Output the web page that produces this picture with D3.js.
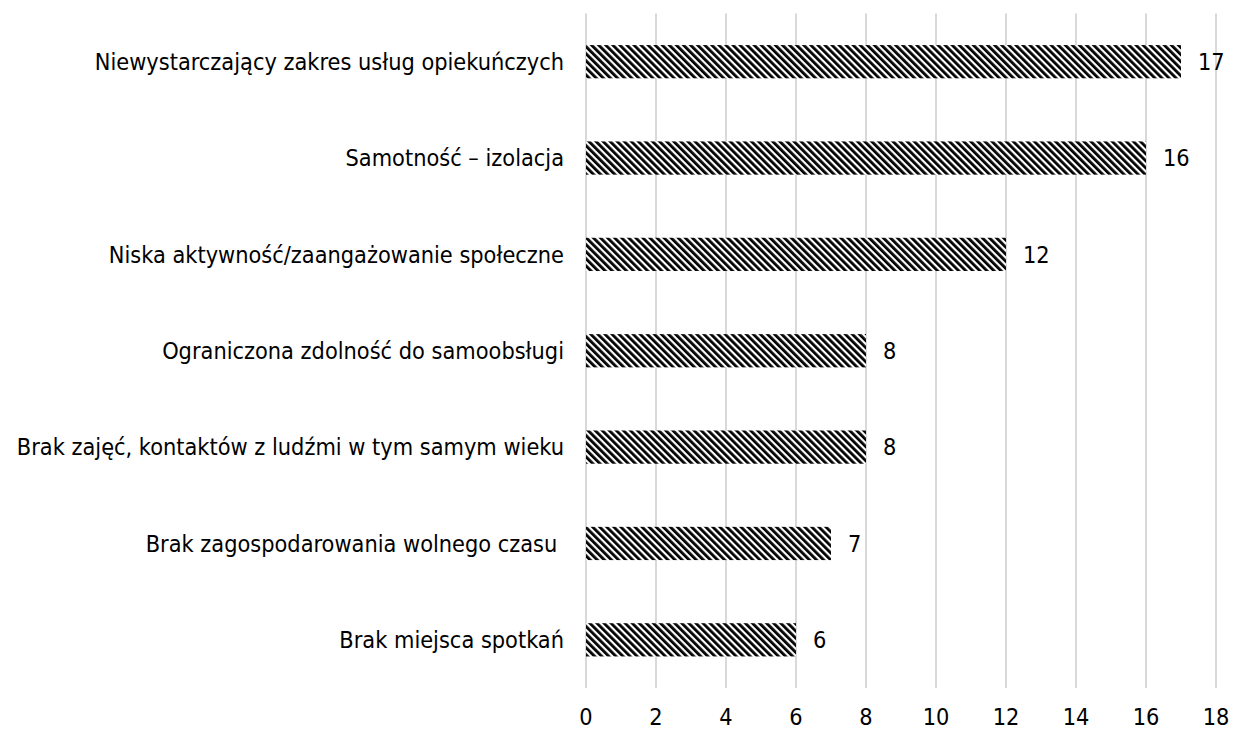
<!DOCTYPE html>
<html><head><meta charset="utf-8">
<script src="https://cdn.jsdelivr.net/npm/d3@7"></script>
<style>body{margin:0;background:#fff}svg{display:block}</style>
</head><body>
<svg id="c" width="1234" height="731"></svg>
<script>
const categories = [
  "Niewystarczający zakres usług opiekuńczych",
  "Samotność – izolacja",
  "Niska aktywność/zaangażowanie społeczne",
  "Ograniczona zdolność do samoobsługi",
  "Brak zajęć, kontaktów z ludźmi w tym samym wieku",
  "Brak zagospodarowania wolnego czasu ",
  "Brak miejsca spotkań"
];
const values = [17, 16, 12, 8, 8, 7, 6];
const ticks = [0, 2, 4, 6, 8, 10, 12, 14, 16, 18];

const svg = d3.select("#c");
const FONT = "'DejaVu Sans Condensed', 'DejaVu Sans', sans-serif";
const FS = 23.3;
const m = {left: 586, right: 1216, top: 13.5, bottom: 688};
const x = d3.scaleLinear().domain([0, 18]).range([m.left, m.right]);
const y = d3.scaleBand().domain(categories).range([m.top, m.bottom]).paddingInner(0.655).paddingOuter(0.3275);

const defs = svg.append("defs");
const P = 5.0;
const pat = defs.append("pattern").attr("id", "hatch").attr("patternUnits", "userSpaceOnUse")
  .attr("width", P).attr("height", 10).attr("patternTransform", "rotate(-45)");
pat.append("rect").attr("width", P).attr("height", 10).attr("fill", "#fff");
pat.append("rect").attr("width", P * 0.56).attr("height", 10).attr("fill", "#000");

// gridlines
svg.append("g").selectAll("line").data(ticks).join("line")
  .attr("x1", d => x(d)).attr("x2", d => x(d))
  .attr("y1", m.top).attr("y2", m.bottom)
  .attr("stroke", "#d9d9d9").attr("stroke-width", 2);

// bars
svg.append("g").selectAll("rect").data(values).join("rect")
  .attr("x", x(0)).attr("y", (d, i) => y(categories[i]))
  .attr("width", d => x(d) - x(0)).attr("height", y.bandwidth())
  .attr("fill", "url(#hatch)");

// value labels
svg.append("g").selectAll("text").data(values).join("text")
  .attr("x", d => x(d) + 17).attr("y", (d, i) => y(categories[i]) + y.bandwidth() / 2)
  .attr("dy", "0.36em").attr("font-family", FONT).attr("font-size", FS).attr("fill", "#000")
  .text(d => d);

// category labels
svg.append("g").selectAll("text").data(categories).join("text")
  .attr("x", m.left - 22).attr("y", d => y(d) + y.bandwidth() / 2)
  .attr("dy", "0.36em").attr("text-anchor", "end")
  .attr("font-family", FONT).attr("font-size", FS).attr("fill", "#000")
  .style("white-space", "pre")
  .text(d => d);

// x tick labels
svg.append("g").selectAll("text").data(ticks).join("text")
  .attr("x", d => x(d)).attr("y", 725).attr("text-anchor", "middle")
  .attr("font-family", FONT).attr("font-size", FS).attr("fill", "#000")
  .text(d => d);
</script>
</body></html>
